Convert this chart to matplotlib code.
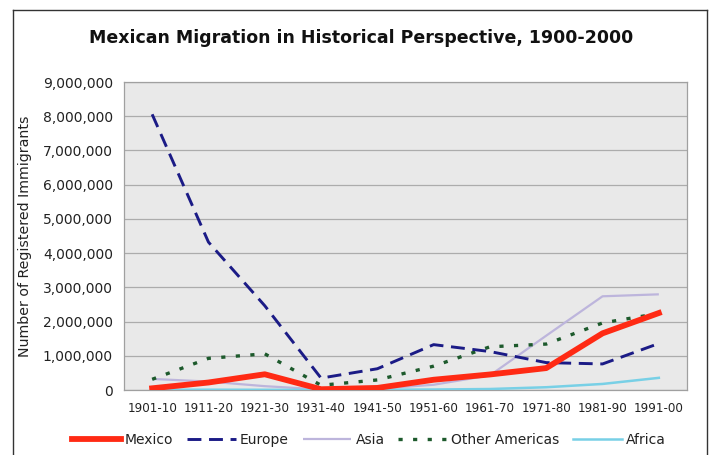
import matplotlib
matplotlib.use("Agg")
import matplotlib.pyplot as plt
from matplotlib.lines import Line2D
from matplotlib.ticker import FuncFormatter

decades = ["1901-10", "1911-20", "1921-30", "1931-40", "1941-50",
           "1951-60", "1961-70", "1971-80", "1981-90", "1991-00"]
mexico = [49642, 219004, 459287, 22319, 60589, 299811, 453937, 640294, 1655843, 2249421]
europe = [8056040, 4321887, 2463194, 347566, 621147, 1325727, 1123492, 800368, 761550, 1359737]
asia = [323543, 247236, 112059, 16595, 37028, 153249, 427642, 1588178, 2738157, 2795672]
other_americas = [312246, 924667, 1057429, 137718, 294215, 697133, 1262437, 1342441, 1959382, 2237385]
africa = [7368, 8443, 6286, 1750, 7367, 14092, 28954, 80779, 176893, 354939]
yticks = [0, 1000000, 2000000, 3000000, 4000000, 5000000, 6000000, 7000000, 8000000, 9000000]

plt.rcParams['font.family'] = ['DejaVu Sans']
plt.rcParams['lines.scale_dashes'] = False

W, H = 710, 455
fig = plt.figure(figsize=(W / 100, H / 100), dpi=100)
fig.patch.set_facecolor('white')
ax = fig.add_axes([124 / W, 1 - 390 / H, (687 - 124) / W, (390 - 82) / H])
ax.set_facecolor('#e9e9e9')

x = list(range(len(decades)))
ax.plot(x, asia, color='#bdb5dc', lw=1.6, solid_capstyle='butt', zorder=3, label='Asia')
ax.plot(x, africa, color='#78d0e6', lw=1.8, zorder=3, label='Africa')
ax.plot(x, other_americas, color='#1d5a2c', lw=2.4, dashes=(3, 7.5), zorder=4, label='Other Americas')
ax.plot(x, europe, color='#1b1b86', lw=2.1, dashes=(10, 5.5), zorder=5, label='Europe')
ax.plot(x, mexico, color='#ff2a14', lw=4.2, solid_joinstyle='round', zorder=6, label='Mexico')

ax.set_xlim(-0.5, len(decades) - 0.5)
ax.set_ylim(0, 9000000)
ax.set_yticks(yticks)
ax.yaxis.set_major_formatter(FuncFormatter(lambda v, p: f"{int(v):,}"))
ax.set_xticks(x)
ax.set_xticklabels(decades)
ax.tick_params(axis='y', length=0, pad=8, labelsize=10, labelcolor='#222222')
ax.tick_params(axis='x', length=0, pad=9, labelsize=8.6, labelcolor='#222222')
ax.grid(axis='y', color='#acacac', lw=0.9, zorder=1)
ax.set_axisbelow(True)
for s in ax.spines.values():
    s.set_color('#a0a0a0')
    s.set_linewidth(0.9)

ax.set_ylabel("Number of Registered Immigrants", fontsize=10.2, color='#222222')
ax.yaxis.set_label_coords((32 - 124) / (687 - 124), 0.5)

fig.text(361 / W, 1 - 38 / H, "Mexican Migration in Historical Perspective, 1900-2000",
         ha='center', va='center', fontsize=12.5, fontweight='bold', color='#111111')

# outer frame
fl = 13 / W; fr = 707 / W; ft = 1 - 10 / H
for xs, ys in [([fl, fl], [0, ft]), ([fl, fr], [ft, ft]), ([fr, fr], [ft, 0])]:
    fig.add_artist(Line2D(xs, ys, transform=fig.transFigure, color='#333333', lw=1))

handles, labels = ax.get_legend_handles_labels()
order = ['Mexico', 'Europe', 'Asia', 'Other Americas', 'Africa']
hmap = dict(zip(labels, handles))
leg = fig.legend([hmap[k] for k in order], order, loc='center', ncol=5,
                 bbox_to_anchor=(369 / W, 1 - 440 / H), frameon=False,
                 fontsize=10, handlelength=3.5, handletextpad=0.3, columnspacing=1.0)
for t in leg.get_texts():
    t.set_color('#222222')

fig.savefig("out.png", dpi=100)
